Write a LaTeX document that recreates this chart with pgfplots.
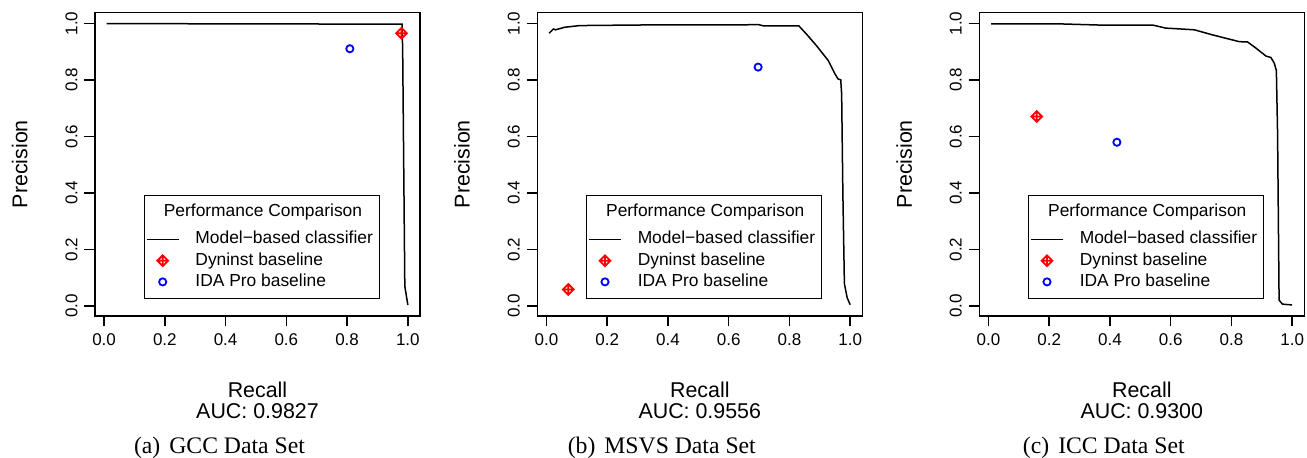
\documentclass[border=0pt]{standalone}
\usepackage{fontspec}
\setmainfont{Liberation Sans}
\newfontfamily\capfont{Liberation Serif}
\usepackage{pgfplots}
\pgfplotsset{compat=1.18}

% R's pch=9: diamond with a plus inside
\pgfdeclareplotmark{diamondplus}{%
  \pgfpathmoveto{\pgfqpoint{\pgfplotmarksize}{0pt}}%
  \pgfpathlineto{\pgfqpoint{0pt}{\pgfplotmarksize}}%
  \pgfpathlineto{\pgfqpoint{-\pgfplotmarksize}{0pt}}%
  \pgfpathlineto{\pgfqpoint{0pt}{-\pgfplotmarksize}}%
  \pgfpathclose
  \pgfpathmoveto{\pgfqpoint{\pgfplotmarksize}{0pt}}%
  \pgfpathlineto{\pgfqpoint{-\pgfplotmarksize}{0pt}}%
  \pgfpathmoveto{\pgfqpoint{0pt}{\pgfplotmarksize}}%
  \pgfpathlineto{\pgfqpoint{0pt}{-\pgfplotmarksize}}%
  \pgfusepathqstroke}

\pgfplotsset{
  prplot/.style={
    scale only axis, width=162.5pt, height=151.85pt, anchor=south west,
    xmin=-0.03, xmax=1.04, ymin=-0.035, ymax=1.04,
    axis line style={line width=0.75pt},
    xtick={0,0.2,0.4,0.6,0.8,1}, ytick={0,0.2,0.4,0.6,0.8,1},
    tick pos=left, tick align=outside, major tick length=5.25pt,
    tick style={line width=0.75pt, black},
    ticklabel style={font=\fontsize{8.5}{8.5}\selectfont},
    /pgf/number format/.cd, fixed, fixed zerofill, precision=1, assume math mode=true, /pgfplots/.cd,
    yticklabel style={rotate=90, anchor=south},
    xlabel style={at={(axis description cs:0.5,-0.216)}, anchor=north, align=center,
      inner sep=0pt, font=\fontsize{10.7}{10.5}\selectfont},
    ylabel style={at={(axis description cs:-0.206,0.5)}, anchor=south,
      inner sep=0pt, font=\fontsize{10.7}{10.7}\selectfont},
    ylabel={Precision},
    legend style={at={(axis description cs:0.877,0.056)}, anchor=south east,
      draw=black, line width=0.5pt, fill=white, inner xsep=0.8pt, inner ysep=3pt,
      column sep=8pt, font=\fontsize{8.7}{8.7}\selectfont,
      nodes={inner xsep=0pt, inner ysep=0pt, text height=7.5pt, text depth=3.1pt}},
    legend cell align=left,
    legend image code/.code={\draw[mark repeat=2,mark phase=2]
      plot coordinates {(0pt,0pt)(8pt,0pt)(16pt,0pt)};},
  },
  curve/.style={black, line width=0.75pt, mark=none},
  dyn/.style={only marks, red, mark=diamondplus, mark size=2.7pt, line width=0.9pt},
  ida/.style={only marks, blue, mark=o, mark size=1.8pt, line width=0.9pt},
}

\begin{document}
\begin{tikzpicture}
\useasboundingbox (0,0) rectangle (653.5pt,-229pt);

% (a) GCC
\begin{axis}[prplot, name=ax1, at={(47.5pt,-158pt)}, xlabel={Recall\\AUC: 0.9827}]
\addlegendimage{empty legend}
\addlegendentry[text depth=6.35pt]{\hspace*{-15.8pt}Performance Comparison}
\addplot[curve] coordinates {
  (0.008,1.0)(0.981,0.998)(0.983,0.9)(0.990,0.07)(1.0,0.004)
};
\addlegendentry{Model−based classifier\hspace*{2.5pt}}
\addplot[dyn] coordinates {(0.979,0.966)};
\addlegendentry{Dyninst baseline}
\addplot[ida] coordinates {(0.809,0.911)};
\addlegendentry{IDA Pro baseline}
\end{axis}

% (b) MSVS
\begin{axis}[prplot, name=ax2, at={(268.65pt,-158pt)}, xlabel={Recall\\AUC: 0.9556}]
\addlegendimage{empty legend}
\addlegendentry[text depth=6.35pt]{\hspace*{-15.8pt}Performance Comparison}
\addplot[curve] coordinates {
  (0.009,0.966)(0.023,0.981)(0.030,0.978)(0.060,0.987)(0.110,0.993)(0.300,0.995)
  (0.700,0.996)(0.714,0.992)(0.831,0.992)(0.856,0.963)(0.889,0.922)(0.928,0.869)
  (0.950,0.822)(0.960,0.804)(0.969,0.801)(0.972,0.750)(0.976,0.400)(0.981,0.080)
  (0.990,0.030)(1.0,0.005)
};
\addlegendentry{Model−based classifier\hspace*{2.5pt}}
\addplot[dyn] coordinates {(0.072,0.059)};
\addlegendentry{Dyninst baseline}
\addplot[ida] coordinates {(0.697,0.846)};
\addlegendentry{IDA Pro baseline}
\end{axis}

% (c) ICC
\begin{axis}[prplot, name=ax3, at={(489.65pt,-158pt)}, xlabel={Recall\\AUC: 0.9300}]
\addlegendimage{empty legend}
\addlegendentry[text depth=6.35pt]{\hspace*{-15.8pt}Performance Comparison}
\addplot[curve] coordinates {
  (0.009,0.999)(0.234,0.999)(0.360,0.995)(0.540,0.995)(0.584,0.984)(0.617,0.982)
  (0.678,0.978)(0.738,0.960)(0.826,0.936)(0.853,0.935)(0.875,0.918)(0.914,0.885)
  (0.930,0.880)(0.941,0.860)(0.948,0.834)(0.952,0.612)(0.957,0.021)(0.968,0.007)
  (1.0,0.004)
};
\addlegendentry{Model−based classifier\hspace*{2.5pt}}
\addplot[dyn] coordinates {(0.159,0.671)};
\addlegendentry{Dyninst baseline}
\addplot[ida] coordinates {(0.423,0.580)};
\addlegendentry{IDA Pro baseline}
\end{axis}

\foreach \a/\t in {ax1/{(a)\hspace{4.5pt}GCC Data Set}, ax2/{(b)\hspace{4.5pt}MSVS Data Set}, ax3/{(c)\hspace{4.5pt}ICC Data Set}}
  \node[anchor=base, inner sep=0pt, font=\capfont\fontsize{11.85}{12}\selectfont,
    xshift=62.25pt, yshift=-69pt] at (\a.south west) {\t};
\end{tikzpicture}
\end{document}
